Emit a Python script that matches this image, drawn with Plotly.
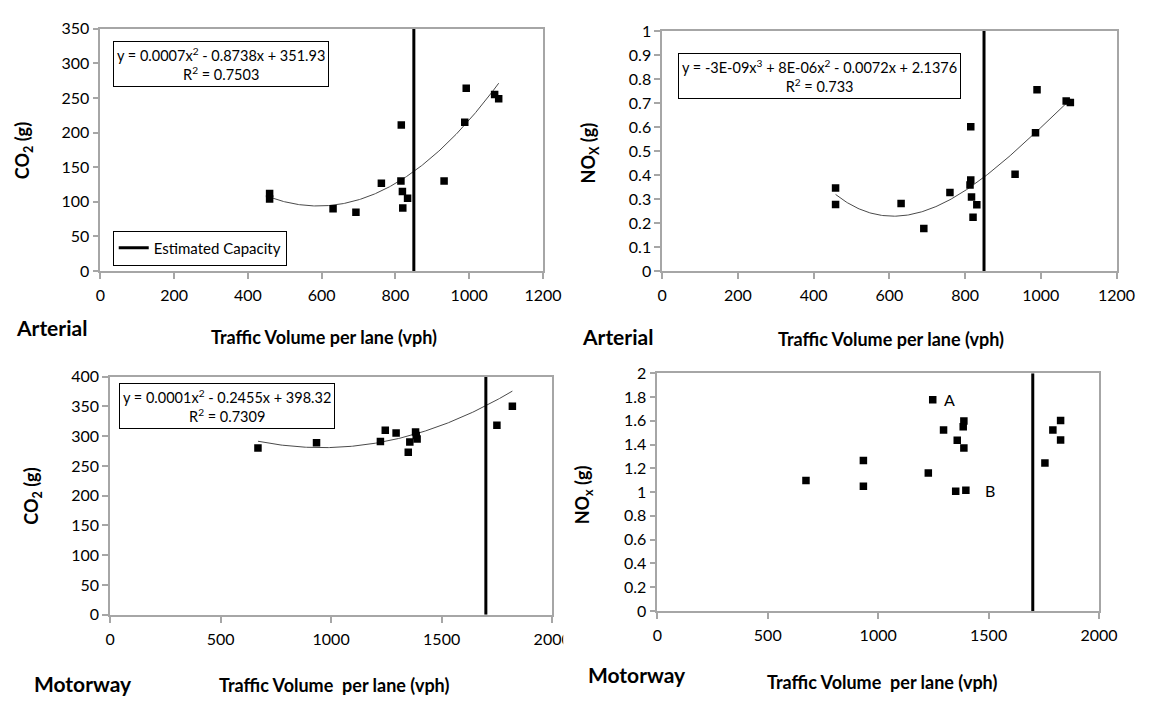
import numpy as np
import plotly.graph_objects as go

# ---------------- data ----------------
# Arterial: CO2 (g) vs traffic volume per lane (vph)
art_co2_vol = [459, 459, 631, 693, 762, 816, 815, 819, 820, 833, 932, 988, 992, 1069, 1080]
art_co2_val = [112, 104, 90, 85, 127, 211, 130, 115, 91, 105, 130, 215, 264, 255, 249]

# Arterial: NOx (g) vs traffic volume per lane (vph)
art_nox_vol = [458, 458, 631, 691, 760, 815, 815, 813, 817, 821, 831, 932, 986, 990, 1067, 1078]
art_nox_val = [0.347, 0.278, 0.283, 0.179, 0.328, 0.602, 0.380, 0.360, 0.310, 0.225, 0.277,
               0.404, 0.577, 0.756, 0.709, 0.703]

# Motorway: CO2 (g) vs traffic volume per lane (vph)
mot_co2_vol = [669, 934, 1223, 1245, 1294, 1349, 1356, 1382, 1385, 1389, 1750, 1820]
mot_co2_val = [280, 289, 291, 310, 305, 273, 290, 307, 301, 295, 318, 350]

# Motorway: NOx (g) vs traffic volume per lane (vph)
mot_nox_vol = [673, 933, 933, 1227, 1247, 1296, 1351, 1358, 1385, 1388, 1388, 1397,
               1755, 1791, 1826, 1826]
mot_nox_val = [1.097, 1.266, 1.050, 1.160, 1.776, 1.522, 1.007, 1.435, 1.550, 1.599, 1.370,
               1.015, 1.244, 1.523, 1.602, 1.438]

# estimated capacity per panel (vph)
capacity = [850, 850, 1700, 1700]

# polynomial trendline coefficients, highest power first (None = no trendline);
# the equation boxes show them rounded
trend_coef = [
    [0.00074, -0.8738, 351.93],
    [-2.683e-09, 8.393e-06, -0.007249, 2.1376],
    [0.000128, -0.2455, 398.32],
    None,
]

trend_labels = [
    "y = 0.0007x<sup>2</sup> - 0.8738x + 351.93<br>R<sup>2</sup> = 0.7503",
    "y = -3E-09x<sup>3</sup> + 8E-06x<sup>2</sup> - 0.0072x + 2.1376<br>R<sup>2</sup> = 0.733",
    "y = 0.0001x<sup>2</sup> - 0.2455x + 398.32<br>R<sup>2</sup> = 0.7309",
]

x_ranges = [[0, 1200], [0, 1200], [0, 2000], [0, 2000]]
x_dticks = [200, 200, 500, 500]
y_ranges = [[0, 350], [0, 1], [0, 400], [0, 2]]
y_dticks = [50, 0.1, 50, 0.2]

# ---------------- layout helpers ----------------
W, H = 1162, 702
FONT = "Lato"


def fx(p):
    return p / W


def fy(p):
    return 1 - p / H


# plot-area rectangles in pixels: (left, top, right, bottom)
areas = [
    (97.3, 19.3, 549.3, 268.3),
    (671.0, 21.7, 1135.0, 268.7),
    (107.3, 376.7, 558.7, 621.7),
    (666.1, 373.3, 1117.1, 617.7),
]

series = [
    (art_co2_vol, art_co2_val),
    (art_nox_vol, art_nox_val),
    (mot_co2_vol, mot_co2_val),
    (mot_nox_vol, mot_nox_val),
]

fig = go.Figure()
layout = {}

axis_common = dict(
    showline=True, mirror=True, linecolor="#a6a6a6", linewidth=1.5,
    ticks="outside", ticklen=6, tickcolor="#a6a6a6", tickwidth=1.5,
    showgrid=False, zeroline=False, fixedrange=True,
    tickfont=dict(family=FONT, size=16, color="black"),
)

for i, ((l, t, r, b), (vol, val)) in enumerate(zip(areas, series)):
    n = "" if i == 0 else str(i + 1)
    xa, ya = "x" + n, "y" + n
    layout["xaxis" + n] = dict(
        axis_common, domain=[fx(l), fx(r)], anchor=ya,
        range=x_ranges[i], dtick=x_dticks[i], tick0=0, ticklabelstandoff=3,
    )
    layout["yaxis" + n] = dict(
        axis_common, domain=[fy(b), fy(t)], anchor=xa,
        range=y_ranges[i], dtick=y_dticks[i], tick0=0,
    )

    # polynomial trendline over the observed volume span
    coef = trend_coef[i]
    if coef is not None:
        xs = np.linspace(min(vol), max(vol), 200)
        fig.add_trace(go.Scatter(
            x=xs, y=np.polyval(coef, xs), mode="lines", xaxis=xa, yaxis=ya,
            line=dict(color="#4a4a4a", width=1), showlegend=False, hoverinfo="skip",
        ))

    # estimated capacity
    fig.add_trace(go.Scatter(
        x=[capacity[i], capacity[i]], y=y_ranges[i], mode="lines", xaxis=xa, yaxis=ya,
        line=dict(color="black", width=3), name="Estimated Capacity",
        showlegend=(i == 0),
    ))

    # observations
    fig.add_trace(go.Scatter(
        x=vol, y=val, mode="markers", xaxis=xa, yaxis=ya,
        marker=dict(symbol="square", size=7.5, color="black"), showlegend=False,
    ))

annotations = []

# trendline equation boxes
eq_boxes = [(110.7, 31.7), (687.6, 44.3), (116.9, 383.3)]
for (bx, by), txt in zip(eq_boxes, trend_labels):
    annotations.append(dict(
        xref="paper", yref="paper", x=fx(bx), y=fy(by), xanchor="left", yanchor="top",
        text=txt, showarrow=False, align="center",
        font=dict(family=FONT, size=14.5, color="black"),
        bordercolor="black", borderwidth=1, borderpad=3, bgcolor="white",
    ))

# panel names
for txt, px, py in [("Arterial", 9, 326), ("Arterial", 587, 336),
                    ("Motorway", 28, 692), ("Motorway", 593, 683)]:
    annotations.append(dict(
        xref="paper", yref="paper", x=fx(px), y=fy(py), xanchor="left", yanchor="middle",
        text="<b>%s</b>" % txt, showarrow=False,
        font=dict(family=FONT, size=21, color="black"),
    ))

# x-axis titles
for txt, px, py in [("Traffic Volume per lane (vph)", 325.7, 336),
                    ("Traffic Volume per lane (vph)", 905, 338),
                    ("Traffic Volume  per lane (vph)", 336, 694),
                    ("Traffic Volume  per lane (vph)", 895.5, 691)]:
    annotations.append(dict(
        xref="paper", yref="paper", x=fx(px), y=fy(py), xanchor="center", yanchor="middle",
        text="<b>%s</b>" % txt, showarrow=False,
        font=dict(family=FONT, size=18, color="black"),
    ))

# y-axis titles
for txt, px, py in [("CO<sub>2</sub> (g)", 18.5, 145),
                    ("NO<sub>X</sub> (g)", 596.7, 147),
                    ("CO<sub>2</sub> (g)", 27.8, 500),
                    ("NO<sub>x</sub> (g)", 591, 498)]:
    annotations.append(dict(
        xref="paper", yref="paper", x=fx(px), y=fy(py), xanchor="center", yanchor="middle",
        text="<b>%s</b>" % txt, showarrow=False, textangle=-90,
        font=dict(family=FONT, size=18, color="black"),
    ))

# point labels on the motorway NOx panel
for txt, idx, shift in [("A", 4, 9), ("B", 11, 17)]:
    annotations.append(dict(
        xref="x4", yref="y4", x=mot_nox_vol[idx], y=mot_nox_val[idx],
        xanchor="left", yanchor="middle", xshift=shift,
        text=txt, showarrow=False, font=dict(family=FONT, size=16, color="black"),
    ))

fig.update_layout(
    **layout,
    width=W, height=H,
    margin=dict(l=0, r=0, t=0, b=0),
    paper_bgcolor="white", plot_bgcolor="white",
    annotations=annotations,
    showlegend=True,
    legend=dict(
        x=fx(110), y=fy(226.7), xanchor="left", yanchor="top",
        bordercolor="black", borderwidth=1, bgcolor="white",
        font=dict(family=FONT, size=15, color="black"),
        itemwidth=30, tracegroupgap=0,
    ),
    shapes=[dict(
        type="rect", xref="paper", yref="paper",
        x0=fx(570), x1=fx(584), y0=fy(668), y1=fy(630),
        fillcolor="white", line=dict(width=0), layer="above",
    )],
)

fig.write_html("out.html")
